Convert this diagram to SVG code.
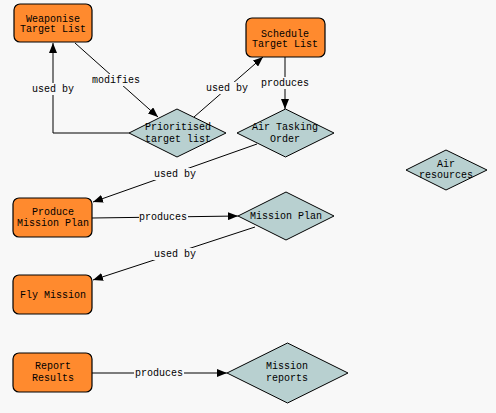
<svg xmlns="http://www.w3.org/2000/svg" width="496" height="413" viewBox="0 0 496 413">
<defs>
<marker id="arr" viewBox="0 0 10 8" refX="10" refY="4" markerWidth="10" markerHeight="8" markerUnits="userSpaceOnUse" orient="auto">
<path d="M0,0 L10,4 L0,8 Z" fill="#000"/>
</marker>
<style>
.box{fill:#ff8a2e;stroke:#000;stroke-width:1.2}
.dia{fill:#b8d0d0;stroke:#000;stroke-width:1}
text{font-family:"Liberation Mono","DejaVu Sans Mono",monospace;font-size:10px;fill:#000;text-anchor:middle}
.e{fill:none;stroke:#000;stroke-width:1;marker-end:url(#arr)}
.lb{fill:#f8f8f8}
</style>
</defs>
<rect width="496" height="413" fill="#f8f8f8"/>
<g id="connectors">
<path class="e" d="M129,133 L53,133 L53,43" stroke-width="1.5"/>
<rect class="lb" x="30" y="83" width="46" height="12"/>
<text x="53" y="92">used by</text>
<path class="e" d="M75,43 L158,117"/>
<rect class="lb" x="92" y="74" width="49" height="12"/>
<text x="116" y="83">modifies</text>
<path class="e" d="M194,117 L263,57"/>
<rect class="lb" x="204" y="82" width="46" height="12"/>
<text x="227" y="91">used by</text>
<path class="e" d="M285,57 L285,109" stroke-width="1.2"/>
<rect class="lb" x="260" y="77" width="50" height="12"/>
<text x="285" y="86">produces</text>
<path class="e" d="M257,144 L93,202"/>
<rect class="lb" x="152" y="168" width="46" height="12"/>
<text x="175" y="177">used by</text>
<path class="e" d="M92,218 L238,216" stroke-width="1.2"/>
<rect class="lb" x="139" y="211" width="49" height="12"/>
<text x="163" y="220">produces</text>
<path class="e" d="M255,227 L93,280"/>
<rect class="lb" x="152" y="248" width="46" height="12"/>
<text x="175" y="257">used by</text>
<path class="e" d="M92,373 L227,373" stroke-width="1.2"/>
<rect class="lb" x="134" y="367" width="50" height="12"/>
<text x="159" y="376">produces</text>
</g>
<g id="weaponise">
<rect class="box" x="14" y="4" width="78" height="38" rx="6"/>
<text x="53" y="22">Weaponise</text>
<text x="53" y="32">Target List</text>
</g>
<g id="schedule">
<rect class="box" x="246" y="18" width="79" height="39" rx="6"/>
<text x="285" y="37">Schedule</text>
<text x="285" y="47">Target List</text>
</g>
<g id="prioritised">
<polygon class="dia" points="177,109 226,133 177,157 129,133"/>
<text x="178" y="130">Prioritised</text>
<text x="178" y="142">target list</text>
</g>
<g id="ato">
<polygon class="dia" points="285.5,109 334,133 285.5,157 237,133"/>
<text x="285" y="130">Air Tasking</text>
<text x="285" y="142">Order</text>
</g>
<g id="airres">
<polygon class="dia" points="446,150 487,170 446,190 406,170"/>
<text x="446" y="167">Air</text>
<text x="446" y="178">resources</text>
</g>
<g id="produce">
<rect class="box" x="13" y="198" width="79" height="39" rx="6"/>
<text x="53" y="215">Produce</text>
<text x="53" y="226">Mission Plan</text>
</g>
<g id="missionplan">
<polygon class="dia" points="286,192 334,216 286,240 238,216"/>
<text x="286" y="219">Mission Plan</text>
</g>
<g id="fly">
<rect class="box" x="13" y="275" width="79" height="39" rx="6"/>
<text x="53" y="298">Fly Mission</text>
</g>
<g id="report">
<rect class="box" x="13" y="353" width="79" height="39" rx="6"/>
<text x="53" y="369">Report</text>
<text x="53" y="381">Results</text>
</g>
<g id="missionreports">
<polygon class="dia" points="287.5,343 348,373 287.5,403 227,373"/>
<text x="287" y="369">Mission</text>
<text x="287" y="381">reports</text>
</g>
</svg>
